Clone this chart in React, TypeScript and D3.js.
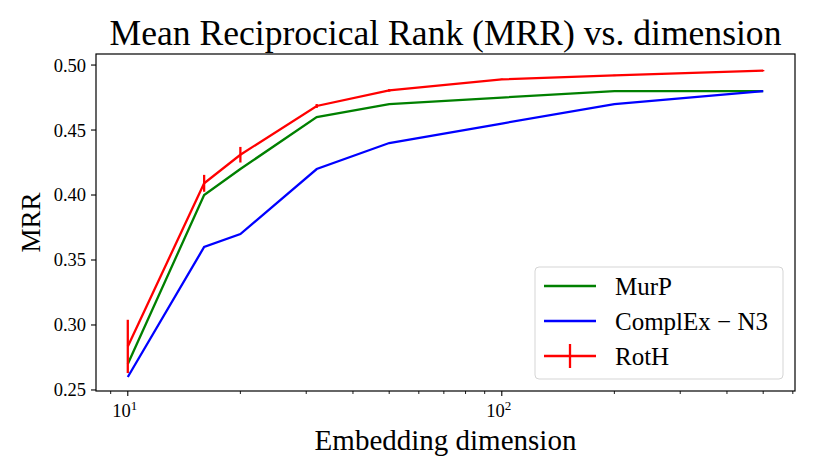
import React from 'react';
import * as d3 from 'd3';

const dims = [10, 16, 20, 32, 50, 100, 200, 500];
const murp = [0.27, 0.4, 0.42, 0.46, 0.47, 0.475, 0.48, 0.48];
const complexN3 = [0.26, 0.36, 0.37, 0.42, 0.44, 0.455, 0.47, 0.48];
const roth = [0.2835, 0.409, 0.431, 0.4685, 0.4805, 0.489, 0.492, 0.4957];
const rothErr = [0.0205, 0.0065, 0.006, 0.0015, 0.001, 0.0005, 0.0005, 0.0005];
const yTicks = [0.25, 0.3, 0.35, 0.4, 0.45, 0.5];
const xMajor = [10, 100];
const xMinor = [9, 20, 30, 40, 50, 60, 70, 80, 90, 200, 300, 400, 500, 600];

const W = 828;
const H = 473;
const margin = { top: 54, right: 33, bottom: 82, left: 96 };
const font = '"Liberation Serif", "DejaVu Serif", serif';

export default function App() {
  const x = d3
    .scaleLog()
    .domain([Math.pow(10, 0.915), Math.pow(10, 2.784)])
    .range([margin.left, W - margin.right]);
  const y = d3
    .scaleLinear()
    .domain([0.2492, 0.5085])
    .range([H - margin.bottom, margin.top]);

  const line = d3
    .line<number>()
    .x((_, i) => x(dims[i]))
    .y((d) => y(d));

  const series = [
    { name: 'MurP', color: 'green', values: murp },
    { name: 'ComplEx − N3', color: 'blue', values: complexN3 },
    { name: 'RotH', color: 'red', values: roth },
  ];

  const bottom = H - margin.bottom;
  const legX = 535;
  const legY = 267;

  return (
    <svg width={W} height={H} style={{ position: 'absolute', left: 0, top: 0 }} fontFamily={font}>
      <rect width={W} height={H} fill="white" />
      <text x={(margin.left + W - margin.right) / 2} y={45} textAnchor="middle" fontSize={35.6}>
        Mean Reciprocical Rank (MRR) vs. dimension
      </text>

      {series.map((s) => (
        <path
          key={s.name}
          d={line(s.values) || ''}
          fill="none"
          stroke={s.color}
          strokeWidth={2.3}
        />
      ))}
      {roth.map((v, i) => (
        <line
          key={i}
          x1={x(dims[i])}
          x2={x(dims[i])}
          y1={y(v - rothErr[i])}
          y2={y(v + rothErr[i])}
          stroke="red"
          strokeWidth={2.3}
        />
      ))}

      <rect
        x={margin.left}
        y={margin.top}
        width={W - margin.left - margin.right}
        height={H - margin.top - margin.bottom}
        fill="none"
        stroke="black"
        strokeWidth={1.2}
      />

      {yTicks.map((t) => (
        <g key={t}>
          <line x1={margin.left - 5} x2={margin.left} y1={y(t)} y2={y(t)} stroke="black" strokeWidth={1.1} />
          <text x={margin.left - 10} y={y(t)} dy="0.35em" textAnchor="end" fontSize={18.5}>
            {t.toFixed(2)}
          </text>
        </g>
      ))}

      {xMajor.map((t) => (
        <g key={t}>
          <line x1={x(t)} x2={x(t)} y1={bottom} y2={bottom + 5} stroke="black" strokeWidth={1.1} />
          <text x={x(t) - 3} y={bottom + 26} textAnchor="middle" fontSize={18.5}>
            10
            <tspan dy={-7} fontSize={13}>
              {Math.round(Math.log10(t))}
            </tspan>
          </text>
        </g>
      ))}
      {xMinor.map((t) => (
        <line key={t} x1={x(t)} x2={x(t)} y1={bottom} y2={bottom + 3} stroke="black" strokeWidth={0.9} />
      ))}

      <text x={(margin.left + W - margin.right) / 2} y={450} textAnchor="middle" fontSize={29}>
        Embedding dimension
      </text>
      <text
        transform={`translate(40, ${(margin.top + bottom) / 2}) rotate(-90)`}
        textAnchor="middle"
        fontSize={27}
      >
        MRR
      </text>

      <g>
        <rect
          x={legX}
          y={legY}
          width={248}
          height={112}
          rx={4}
          fill="white"
          fillOpacity={0.8}
          stroke="#d5d5d5"
          strokeWidth={1}
        />
        {series.map((s, i) => {
          const cy = legY + 19 + i * 35;
          return (
            <g key={s.name}>
              <line x1={legX + 9} x2={legX + 61} y1={cy} y2={cy} stroke={s.color} strokeWidth={2.3} />
              {s.name === 'RotH' && (
                <line x1={legX + 35} x2={legX + 35} y1={cy - 12} y2={cy + 12} stroke={s.color} strokeWidth={2.3} />
              )}
              <text x={legX + 80} y={cy} dy="0.35em" fontSize={25}>
                {s.name}
              </text>
            </g>
          );
        })}
      </g>
    </svg>
  );
}
